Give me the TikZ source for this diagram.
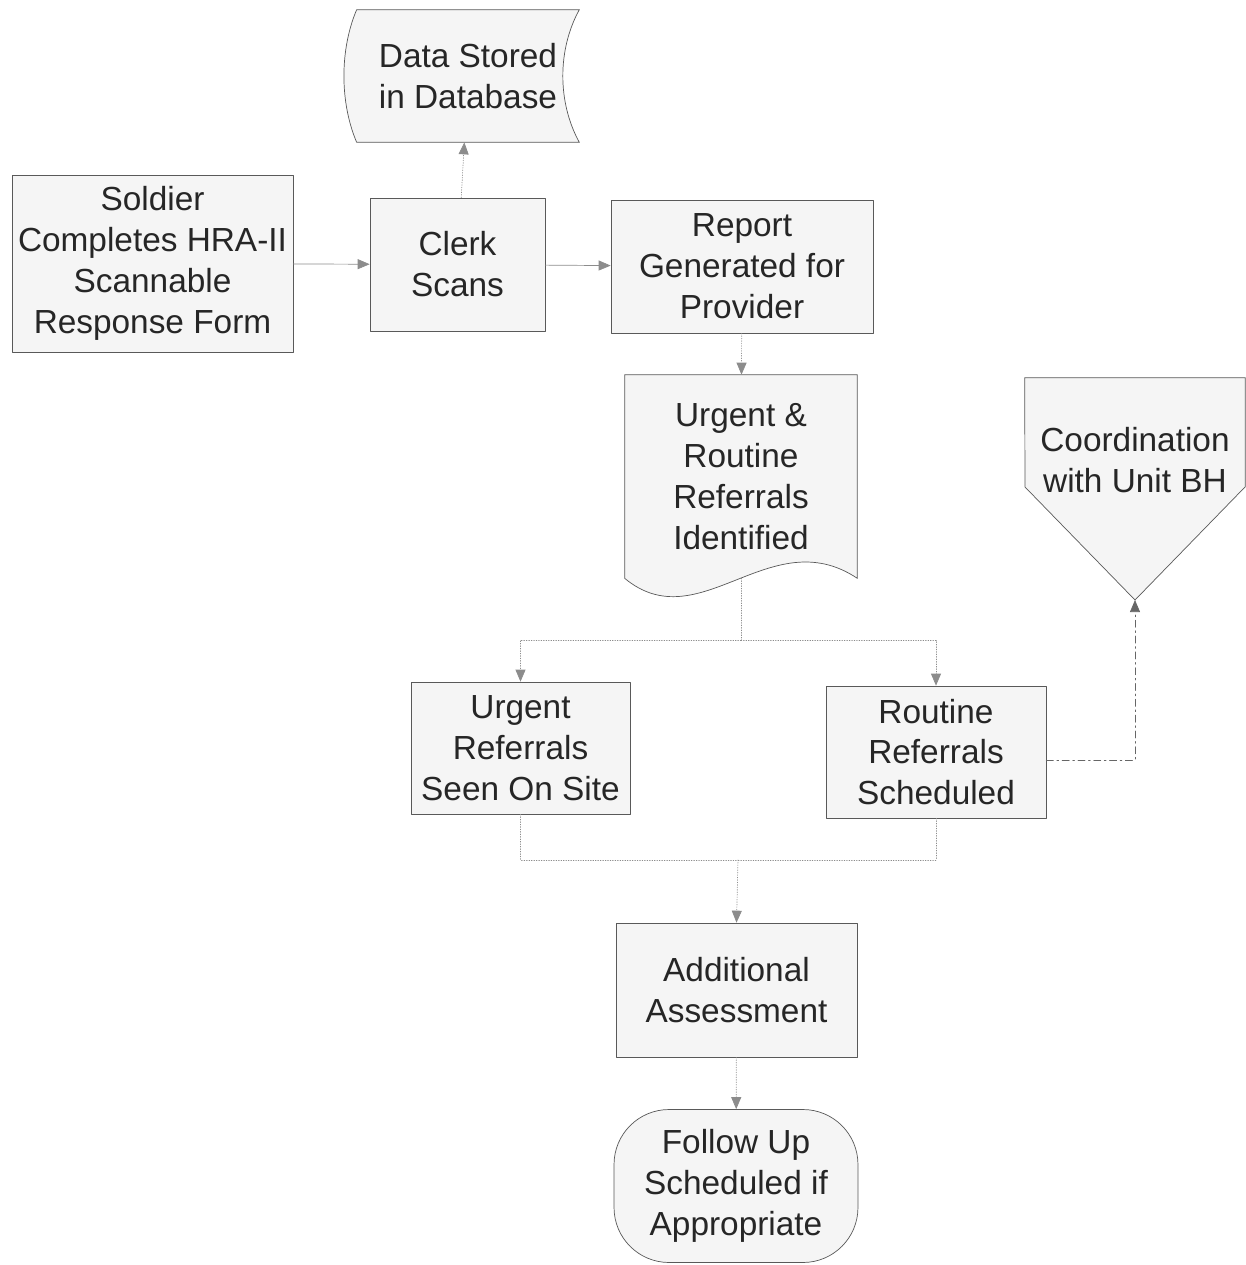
\documentclass[tikz,border=0pt]{standalone}
\usepackage{fontspec}
\setmainfont{Liberation Sans}
\usetikzlibrary{arrows.meta,backgrounds}
\colorlet{Boxcol}{black!4}
\colorlet{Linecol}{black!65}
\colorlet{Flowcol}{black!45}

\begin{document}
\begin{tikzpicture}[x=0.02cm, y=-0.02cm,
        line cap=round, line join=round,
        font=\fontsize{19}{23.3}\selectfont,
        every node/.style={align=center, text=black!85, inner sep=2pt},
        block/.style={draw=Linecol, fill=Boxcol},
        outline/.style={draw=Linecol, fill=Boxcol},
        flow/.style={Flowcol, thin, -{Triangle[length=2.4mm,width=2mm]}},
        flowdot/.style={flow, densely dotted},
        link/.style={Flowcol, thin, densely dotted},
        dashdot/.style={black!60, thin, dash pattern=on 4pt off 2pt on 1pt off 2pt,
            -{Triangle[length=2.4mm,width=2mm]}}]
        \useasboundingbox (0,0) rectangle (1246,1265);

        % process boxes
        \node[block, minimum width=5.62cm, minimum height=3.54cm] (soldier) at (152.5,263.5)
            {Soldier\\Completes HRA-II\\Scannable\\Response Form};
        \node[block, minimum width=3.5cm, minimum height=2.66cm] (clerk) at (457.5,264.5)
            {Clerk\\Scans};
        \node[block, minimum width=5.24cm, minimum height=2.66cm] (report) at (742,266.5)
            {Report\\Generated for\\Provider};
        \node[block, minimum width=4.38cm, minimum height=2.64cm] (urgent) at (520.5,748)
            {Urgent\\Referrals\\Seen On Site};
        \node[block, minimum width=4.4cm, minimum height=2.64cm] (routine) at (936,752)
            {Routine\\Referrals\\Scheduled};
        \node[block, minimum width=4.82cm, minimum height=2.68cm] (assess) at (736.5,990)
            {Additional\\Assessment};
        \node[block, rounded corners=1.1cm, minimum width=4.88cm, minimum height=3.06cm] (follow) at (736,1186)
            {Follow Up\\Scheduled if\\Appropriate};

        % special shapes, outline drawn behind the text
        \node[minimum width=4.44cm, minimum height=2.64cm] (store) at (468,76)
            {Data Stored\\in Database};
        \node[minimum width=4.64cm, minimum height=4.06cm] (doc) at (741,476.5)
            {Urgent \&\\Routine\\Referrals\\Identified};
        \node[minimum width=4.4cm, minimum height=3.28cm] (coord) at (1135,460)
            {Coordination\\with Unit BH};
        \coordinate (coordtip) at (1135,600);
        \begin{scope}[on background layer]
        \draw[outline] (store.north west) -- (store.north east)
            .. controls +(-22,40) and +(-22,-40) .. (store.south east)
            -- (store.south west)
            .. controls +(-17,-40) and +(-17,40) .. (store.north west) -- cycle;
        \draw[outline] (doc.north west) -- (doc.north east) -- (doc.south east)
            .. controls +(-87,-58) and +(75,62) .. (doc.south west) -- cycle;
        \draw[outline] (coord.north west) -- (coord.north east) -- ++(0,109)
            -- (coordtip) -- ++(-110,-113) -- cycle;
        \end{scope}

        % connectors
        \draw[flow] (soldier) -- (clerk);
        \draw[flow] (clerk) -- (report);
        \draw[flowdot] (clerk) -- (store);
        \draw[flowdot] (report) -- (doc);

        \coordinate (split) at (741,640);
        \draw[link] (doc.south) -- (split);
        \draw[flowdot] (split) -| (urgent.north);
        \draw[flowdot] (split) -| (routine.north);
        \draw[dashdot] ([yshift=-0.16cm]routine.east) -| (coordtip);

        \coordinate (join) at (738,860);
        \draw[link] (urgent.south) |- (join);
        \draw[link] (routine.south) |- (join);
        \draw[flowdot] (join) -- (assess.north);
        \draw[flowdot] (assess) -- (follow);

    \end{tikzpicture}
\end{document}
